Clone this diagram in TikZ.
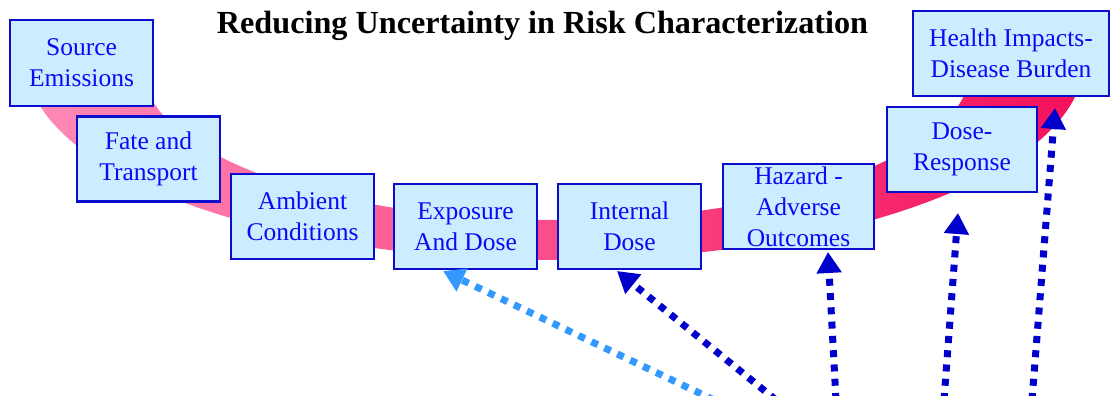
\documentclass[tikz,border=0pt]{standalone}
\usepackage{fontspec}
\setmainfont{Liberation Serif}
\usetikzlibrary{arrows.meta}
\definecolor{boxfill}{HTML}{CCECFF}
\definecolor{boxline}{HTML}{0C0CCC}
\definecolor{boxtext}{HTML}{0A0AF5}
\definecolor{bandleft}{HTML}{FF8AB8}
\definecolor{bandright}{HTML}{F5105C}
\definecolor{darkarrow}{HTML}{0000CC}
\definecolor{lightarrow}{HTML}{3399FF}
\tikzset{
  stage/.style={draw=boxline, line width=2.6pt, fill=boxfill, text=boxtext,
    inner sep=0pt, align=center, minimum height=85pt,
    font=\fontsize{25.5}{31}\selectfont},
  dotarrow/.style={line width=7pt, dash pattern=on 7pt off 7.3pt,
    -{Triangle[width=24pt,length=21pt]}},
}
\begin{document}
\begin{tikzpicture}[x=1pt,y=-1pt]
\useasboundingbox (0,0) rectangle (1112,396);
% band
\begin{scope}
  \clip (0,90) rectangle (1112,396);
  \shade[left color=bandleft, right color=bandright, even odd rule]
    (555,60) ellipse [x radius=529, y radius=200]
    (557,70) ellipse [x radius=413, y radius=150];
\end{scope}
% title
\node[anchor=base, font=\fontsize{32.2}{36}\selectfont\bfseries, inner sep=0pt] (title) at (542.5,34) {Reducing Uncertainty in Risk Characterization};
% stages
\node[stage, minimum width=143pt, minimum height=86pt] (src) at (81.5,63) {Source\\Emissions};
\node[stage, minimum width=143pt] (fate) at (148.5,159) {Fate and\\Transport};
\node[stage, minimum width=143pt] (amb) at (302.5,216.5) {Ambient\\Conditions};
\node[stage, minimum width=143pt] (exp) at (465.5,226.5) {Exposure\\And Dose};
\node[stage, minimum width=143pt] (int) at (629.5,226.5) {Internal\\Dose};
\node[stage, minimum width=151pt] (haz) at (798.5,206.5) {Hazard -\\Adverse\\Outcomes};
\node[stage, minimum width=150pt] (dr) at (962,149.5) {Dose-\\Response};
\node[stage, minimum width=196pt] (hi) at (1011,53.5) {Health Impacts-\\Disease Burden};
% arrow ends
\coordinate (s1) at (714,400);
\coordinate (s2) at (776,400);
\coordinate (s3) at (836,400);
\coordinate (s4) at (944,400);
\coordinate (s5) at (1032,400);
\coordinate (t1) at (443,271);
\coordinate (t2) at (617,271);
\coordinate (t3) at (828,252);
\coordinate (t4) at (958,213);
\coordinate (t5) at (1055,108);
\draw[dotarrow, lightarrow] (s1) -- (t1);
\draw[dotarrow, darkarrow] (s2) -- (t2);
\draw[dotarrow, darkarrow] (s3) -- (t3);
\draw[dotarrow, darkarrow] (s4) -- (t4);
\draw[dotarrow, darkarrow] (s5) -- (t5);
\end{tikzpicture}
\end{document}
